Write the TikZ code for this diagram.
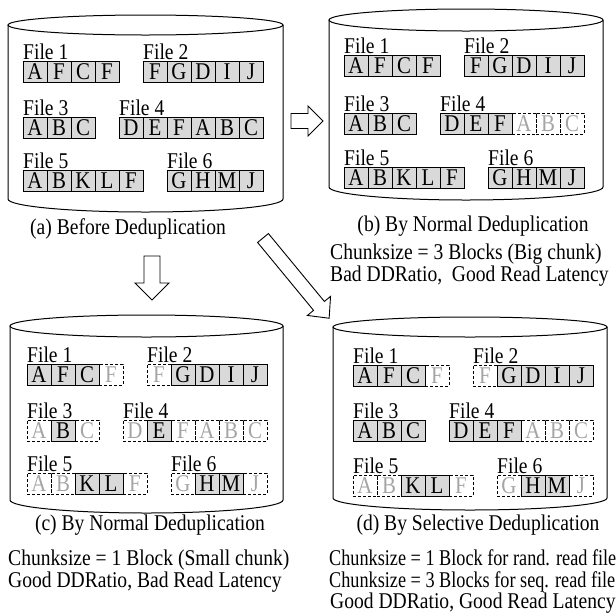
\documentclass[tikz,border=0pt]{standalone}
\usepackage{fontspec}
\setmainfont{Liberation Serif}[FakeStretch=0.87]
\newfontfamily\narrowfont{Liberation Serif}[FakeStretch=0.81]
\definecolor{blkfill}{RGB}{217,217,217}
\definecolor{ghost}{RGB}{165,165,165}
\tikzset{
  blk/.style={minimum width=24pt, minimum height=21pt, inner sep=0pt, outer sep=0pt,
    anchor=north west, draw=black, line width=0.8pt,
    font=\fontsize{24}{24}\selectfont, text height=15.9pt, text depth=0pt},
  sblk/.style={blk, fill=blkfill},
  dblk/.style={blk, dash pattern=on 3pt off 2pt, text=ghost},
  flabel/.style={anchor=base west, inner sep=0pt, text depth=0pt, font=\fontsize{22.5}{22.5}\selectfont},
  captext/.style={anchor=base, inner sep=0pt, font=\fontsize{22.5}{22.5}\selectfont},
  sidetext/.style={anchor=base west, inner sep=0pt, font=\fontsize{22.5}{22.5}\selectfont},
  narrowtext/.style={anchor=base west, inner sep=0pt, font=\narrowfont\fontsize{22.5}{22.5}\selectfont},
  cylline/.style={line width=1pt},
  hollowline/.style={line width=0.9pt, line join=miter},
}
\newcommand\filerow[5]{%
  \node[flabel] (#1-l) at (#2,#3-1.5) {#4};
  \foreach \L/\T [count=\i from 0] in {#5}{\ifnum\T=0 \node[dblk] (#1-\i) at ({#2+24*\i},#3) {\L};\fi}
  \foreach \L/\T [count=\i from 0] in {#5}{\ifnum\T=1 \node[sblk] (#1-\i) at ({#2+24*\i},#3) {\L};\fi}
}
\newcommand\drum[6]{%
  \draw[cylline] ({(#1+#2)/2},#3) ellipse [x radius={(#2-#1)/2}, y radius=#4];
  \draw[cylline] (#1,#3) -- (#1,#5) arc[start angle=180, end angle=0, x radius={(#2-#1)/2}, y radius=#6] -- (#2,#3);
}
% #1 name, #2 x, #3 y (tail centre), #4 angle, #5 length, #6 shaft half width, #7 head half width, #8 head length
\newcommand\hollowarrow[8]{%
  \begin{scope}[shift={(#2,#3)}, rotate=#4]
    \coordinate (#1-tail) at (0,0);
    \coordinate (#1-tip) at (#5,0);
    \draw[hollowline] (0,-#6) -- ({#5-#8},-#6) -- ({#5-#8},-#7) -- (#1-tip)
      -- ({#5-#8},#7) -- ({#5-#8},#6) -- (0,#6) -- cycle;
  \end{scope}
}
\begin{document}
\begin{tikzpicture}[x=1pt,y=-1pt]
\useasboundingbox (0,0) rectangle (616,614);
% (a)
\drum{8}{283}{25}{10}{199}{13}
\filerow{a1}{23}{61}{File 1}{A/1,F/1,C/1,F/1}
\filerow{a2}{143}{61}{File 2}{F/1,G/1,D/1,I/1,J/1}
\filerow{a3}{23}{117}{File 3}{A/1,B/1,C/1}
\filerow{a4}{119}{117}{File 4}{D/1,E/1,F/1,A/1,B/1,C/1}
\filerow{a5}{23}{170}{File 5}{A/1,B/1,K/1,L/1,F/1}
\filerow{a6}{167}{170}{File 6}{G/1,H/1,M/1,J/1}
\node[captext] (capa) at (128,234) {(a) Before Deduplication};
% (b)
\drum{329}{603}{20}{11}{187}{13}
\filerow{b1}{344}{55}{File 1}{A/1,F/1,C/1,F/1}
\filerow{b2}{464}{55}{File 2}{F/1,G/1,D/1,I/1,J/1}
\filerow{b3}{344}{113}{File 3}{A/1,B/1,C/1}
\filerow{b4}{440}{113}{File 4}{D/1,E/1,F/1,A/0,B/0,C/0}
\filerow{b5}{344}{167}{File 5}{A/1,B/1,K/1,L/1,F/1}
\filerow{b6}{488}{167}{File 6}{G/1,H/1,M/1,J/1}
\node[captext] (capb) at (473,231) {(b) By Normal Deduplication};
\node[sidetext] (tb1) at (330,259) {Chunksize = 3 Blocks (Big chunk)};
\node[sidetext] (tb2) at (330,281) {Bad DDRatio,\ \ Good Read Latency};
% (c)
\drum{10}{283}{326}{11}{500}{13}
\filerow{c1}{27}{364}{File 1}{A/1,F/1,C/1,F/0}
\filerow{c2}{147}{364}{File 2}{F/0,G/1,D/1,I/1,J/1}
\filerow{c3}{27}{420}{File 3}{A/0,B/1,C/0}
\filerow{c4}{123}{420}{File 4}{D/0,E/1,F/0,A/0,B/0,C/0}
\filerow{c5}{27}{473}{File 5}{A/0,B/0,K/1,L/1,F/0}
\filerow{c6}{171}{473}{File 6}{G/0,H/1,M/1,J/0}
\node[captext] (capc) at (150,530) {(c) By Normal Deduplication};
\node[sidetext] (tc1) at (8,565) {Chunksize = 1 Block (Small chunk)};
\node[sidetext] (tc2) at (8,587) {Good DDRatio, Bad Read Latency};
% (d)
\drum{333}{607}{327}{10}{498}{12}
\filerow{d1}{353}{365}{File 1}{A/1,F/1,C/1,F/0}
\filerow{d2}{473}{365}{File 2}{F/0,G/1,D/1,I/1,J/1}
\filerow{d3}{353}{420}{File 3}{A/1,B/1,C/1}
\filerow{d4}{449}{420}{File 4}{D/1,E/1,F/1,A/0,B/0,C/0}
\filerow{d5}{353}{475}{File 5}{A/0,B/0,K/1,L/1,F/0}
\filerow{d6}{497}{475}{File 6}{G/0,H/1,M/1,J/0}
\node[captext] (capd) at (478,530) {(d) By Selective Deduplication};
\node[narrowtext] (td1) at (329,565) {Chunksize = 1 Block for rand. read file};
\node[narrowtext] (td2) at (329,587) {Chunksize = 3 Blocks for seq. read file};
\node[sidetext] (td3) at (330,608) {Good DDRatio, Good Read Latency};
% hollow arrows
\hollowarrow{arr1}{291}{121}{0}{32}{7.5}{15}{15}
\hollowarrow{arr2}{152}{256}{-90}{44}{8}{17}{17}
\hollowarrow{arr3}{263}{238}{-50.5}{104}{7}{15}{16}
\end{tikzpicture}
\end{document}
